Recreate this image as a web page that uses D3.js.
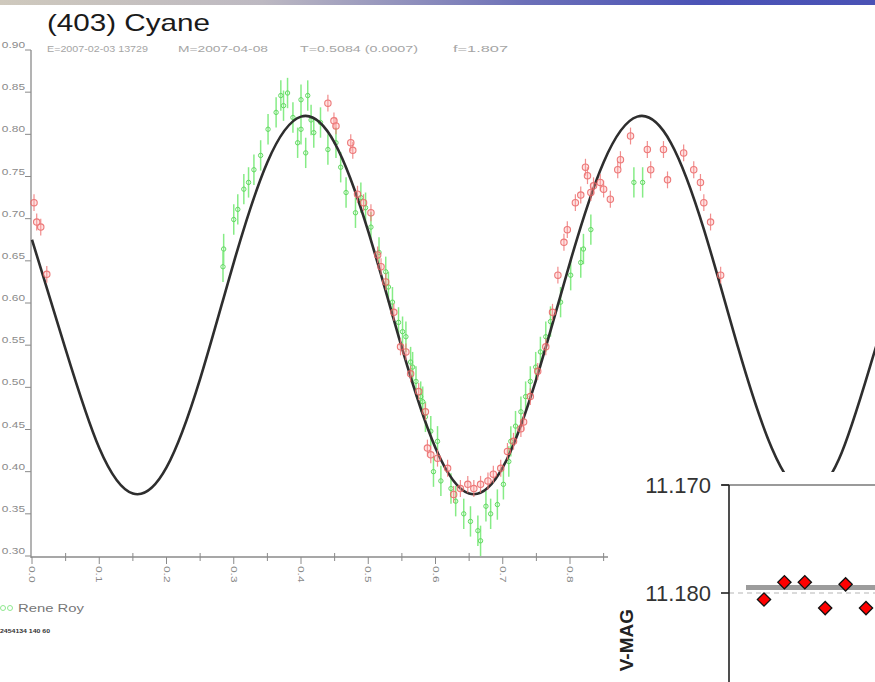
<!DOCTYPE html>
<html><head><meta charset="utf-8">
<script src="https://cdn.jsdelivr.net/npm/d3@7"></script>
<style>html,body{margin:0;padding:0;background:#fff;overflow:hidden}svg{display:block}text{font-family:"Liberation Sans",Arial,sans-serif}</style>
</head><body>
<script>
// ---------- DATA ----------
const title = "(403) Cyane";
const subtitleParts = ["E=2007-02-03 13729", "M=2007-04-08", "T=0.5084 (0.0007)", "f=1.807"];
const yTicks = [0.30,0.35,0.40,0.45,0.50,0.55,0.60,0.65,0.70,0.75,0.80,0.85,0.90];
const xTicks = [0.0,0.1,0.2,0.3,0.4,0.5,0.6,0.7,0.8];
const xMinorTicks = [0.05,0.15,0.25,0.35,0.45,0.55,0.65,0.75,0.85];
// fitted light curve
const curvePhase = [0.00,0.05,0.10,0.15,0.20,0.25,0.30,0.35,0.40,0.45,0.50,0.55,0.60,0.65,0.70,0.75,0.80,0.85,0.90,0.95,1.00,1.05,1.10,1.15,1.20,1.25,1.30];
const curveValue = [0.675,0.545,0.428,0.374,0.405,0.510,0.648,0.767,0.821,0.790,0.685,0.547,0.428,0.374,0.405,0.510,0.648,0.767,0.821,0.790,0.685,0.547,0.428,0.374,0.415,0.535,0.665];
// Rene Roy (green) observations
const greenPhase = [0.284,0.285,0.300,0.306,0.315,0.330,0.340,0.351,0.370,0.374,0.380,0.395,0.400,0.400,0.410,0.415,0.419,0.429,0.440,0.452,0.467,0.481,0.496,0.504,0.516,0.526,0.536,0.545,0.556,0.563,0.571,0.578,0.585,0.593,0.597,0.608,0.623,0.642,0.663,0.667,0.682,0.692,0.701,0.712,0.719,0.727,0.734,0.741,0.749,0.756,0.764,0.771,0.801,0.816,0.820,0.831,0.895,0.908,0.322,0.363,0.388,0.407,0.459,0.489,0.530,0.551,0.566,0.581,0.603,0.630,0.652,0.675,0.709,0.786];
const greenValue = [0.643,0.664,0.699,0.711,0.735,0.758,0.775,0.806,0.846,0.834,0.849,0.790,0.841,0.806,0.846,0.817,0.802,0.814,0.782,0.790,0.731,0.707,0.713,0.690,0.660,0.637,0.601,0.577,0.560,0.530,0.507,0.489,0.465,0.448,0.400,0.389,0.380,0.350,0.330,0.318,0.350,0.361,0.385,0.436,0.454,0.471,0.489,0.507,0.524,0.542,0.560,0.578,0.633,0.648,0.664,0.687,0.743,0.743,0.743,0.826,0.820,0.778,0.761,0.725,0.619,0.566,0.524,0.483,0.436,0.365,0.341,0.359,0.412,0.601];
const greenErr = 0.018;
// second observer (red) observations
const redPhase = [0.003,0.007,0.013,0.022,0.440,0.449,0.452,0.474,0.477,0.484,0.493,0.504,0.514,0.519,0.526,0.538,0.548,0.556,0.563,0.575,0.585,0.588,0.593,0.603,0.618,0.627,0.637,0.648,0.657,0.667,0.678,0.686,0.697,0.707,0.716,0.727,0.731,0.741,0.752,0.764,0.774,0.782,0.791,0.796,0.808,0.816,0.826,0.835,0.850,0.860,0.871,0.875,0.890,0.915,0.920,0.939,0.945,0.969,0.984,0.994,0.999,1.009,1.024,0.845,0.831,0.823];
const redValue = [0.719,0.696,0.690,0.634,0.837,0.816,0.810,0.790,0.781,0.729,0.719,0.707,0.657,0.643,0.625,0.589,0.548,0.542,0.516,0.495,0.471,0.428,0.420,0.416,0.404,0.373,0.380,0.385,0.380,0.385,0.389,0.397,0.404,0.424,0.436,0.451,0.459,0.489,0.519,0.548,0.589,0.633,0.672,0.687,0.719,0.728,0.751,0.739,0.735,0.723,0.758,0.770,0.798,0.782,0.758,0.782,0.746,0.778,0.758,0.743,0.719,0.696,0.633,0.743,0.731,0.761];
const redErr = 0.010;
const legendLabel = "Rene Roy";
// inset chart
const insetTicks = [11.170, 11.180];
const insetIndex = [0,1,2,3,4,5];
const insetMag = [11.1806,11.1790,11.1790,11.1814,11.1792,11.1814];
const insetMean = 11.1795;
const insetAxisTitle = "V-MAG";

// ---------- DRAW ----------
const W = 875, H = 682;
const svg = d3.select("body").append("svg").attr("width", W).attr("height", H);
const defs = svg.append("defs");
const grad = defs.append("linearGradient").attr("id","topbar").attr("x1","0%").attr("x2","100%");
[["0%","#cfc9bd"],["30%","#bdb9c2"],["60%","#6c70b8"],["80%","#4b53b6"],["100%","#4a52b5"]].forEach(s=>grad.append("stop").attr("offset",s[0]).attr("stop-color",s[1]));
svg.append("rect").attr("x",0).attr("y",0).attr("width",W).attr("height",5).attr("fill","url(#topbar)");

const x = d3.scaleLinear().domain([0,1]).range([32,704.5]);
const y = d3.scaleLinear().domain([0.30,0.90]).range([556,50]);
const SX = 1.4; // horizontal stretch of the original picture's text

// title
svg.append("text").attr("x",47).attr("y",31).attr("font-size",24).attr("fill","#1a1a1a")
  .attr("textLength",163).attr("lengthAdjust","spacingAndGlyphs").text(title);
const subX = [47,178,300,453], subLen = [101,90,118,55];
subtitleParts.forEach((t,i)=>svg.append("text").attr("x",subX[i]).attr("y",52).attr("font-size",8.5)
  .attr("fill","#a5a5a5").attr("textLength",subLen[i]).attr("lengthAdjust","spacingAndGlyphs").text(t));

// y axis
const gy = svg.append("g");
gy.append("line").attr("x1",31).attr("x2",31).attr("y1",y(0.90)).attr("y2",558).attr("stroke","#8a8a8a").attr("stroke-width",1.3);
yTicks.forEach(v=>{
  gy.append("line").attr("x1",25).attr("x2",31).attr("y1",y(v)).attr("y2",y(v)).attr("stroke","#8a8a8a").attr("stroke-width",1);
  gy.append("text").attr("transform",`translate(25,${y(v)-2}) scale(${SX},1)`).attr("text-anchor","end")
    .attr("font-size",8.5).attr("fill","#8a8a8a").text(d3.format(".2f")(v));
});
// x axis
const gx = svg.append("g");
gx.append("line").attr("x1",31).attr("x2",612).attr("y1",557).attr("y2",557).attr("stroke","#8a8a8a").attr("stroke-width",1.3);
xTicks.forEach(v=>{
  gx.append("line").attr("x1",x(v)).attr("x2",x(v)).attr("y1",557).attr("y2",564).attr("stroke","#8a8a8a");
  gx.append("text").attr("transform",`translate(${x(v)},566) rotate(90) scale(${SX},1)`).attr("dy","0.35em")
    .attr("font-size",8.5).attr("fill","#8a8a8a").text(d3.format(".1f")(v));
});
xMinorTicks.forEach(v=>gx.append("line").attr("x1",x(v)).attr("x2",x(v)).attr("y1",553).attr("y2",561).attr("stroke","#8a8a8a"));

// observations
const green = d3.range(greenPhase.length).map(i=>({p:greenPhase[i],v:greenValue[i]}));
const red = d3.range(redPhase.length).map(i=>({p:redPhase[i],v:redValue[i]}));
const gG = svg.append("g");
gG.selectAll("line").data(green).join("line").attr("x1",d=>x(d.p)).attr("x2",d=>x(d.p))
  .attr("y1",d=>y(d.v-greenErr)).attr("y2",d=>y(d.v+greenErr)).attr("stroke","#86ec86").attr("stroke-width",1.5);
gG.selectAll("circle").data(green).join("circle").attr("cx",d=>x(d.p)).attr("cy",d=>y(d.v)).attr("r",2.2)
  .attr("fill","none").attr("stroke","#62d862").attr("stroke-width",1);

// curve
const line = d3.line().x((d,i)=>x(curvePhase[i])).y(d=>y(d)).curve(d3.curveNatural);
svg.append("path").attr("d",line(curveValue)).attr("fill","none").attr("stroke","#2e2e2e").attr("stroke-width",2.6);

const gR = svg.append("g").attr("opacity",0.85);
gR.selectAll("line").data(red).join("line").attr("x1",d=>x(d.p)).attr("x2",d=>x(d.p))
  .attr("y1",d=>y(d.v-redErr)).attr("y2",d=>y(d.v+redErr)).attr("stroke","#f07a7a").attr("stroke-width",1.2);
gR.selectAll("circle").data(red).join("circle").attr("cx",d=>x(d.p)).attr("cy",d=>y(d.v)).attr("r",3.2)
  .attr("fill","rgba(255,160,160,0.35)").attr("stroke","#ea6262").attr("stroke-width",1.1);

// legend
svg.append("circle").attr("cx",3).attr("cy",608).attr("r",2.5).attr("fill","none").attr("stroke","#8fe88f");
svg.append("circle").attr("cx",10).attr("cy",608).attr("r",2.5).attr("fill","none").attr("stroke","#8fe88f");
svg.append("text").attr("x",18).attr("y",612).attr("font-size",11).attr("fill","#777")
  .attr("textLength",66).attr("lengthAdjust","spacingAndGlyphs").text(legendLabel);
svg.append("text").attr("x",0).attr("y",633).attr("font-size",5).attr("font-weight","bold").attr("fill","#333")
  .attr("textLength",50).attr("lengthAdjust","spacingAndGlyphs").text("2454134 140 60");

// ---------- INSET ----------
const ix = d3.scaleLinear().domain([0,5]).range([764,866]);
const iy = d3.scaleLinear().domain([11.170,11.180]).range([485,593]);
const gi = svg.append("g");
gi.append("rect").attr("x",608).attr("y",472).attr("width",W-608).attr("height",H-472).attr("fill","#fff");
gi.append("line").attr("x1",722).attr("x2",W).attr("y1",iy(11.170)).attr("y2",iy(11.170)).attr("stroke","#9a9a9a").attr("stroke-width",2);
gi.append("line").attr("x1",729).attr("x2",W).attr("y1",iy(11.180)).attr("y2",iy(11.180)).attr("stroke","#b5b5b5").attr("stroke-width",1).attr("stroke-dasharray","5,4");
gi.append("line").attr("x1",729).attr("x2",729).attr("y1",iy(11.170)).attr("y2",H).attr("stroke","#222").attr("stroke-width",1.6);
insetTicks.forEach(v=>{
  gi.append("line").attr("x1",721).attr("x2",729).attr("y1",iy(v)).attr("y2",iy(v)).attr("stroke","#222").attr("stroke-width",1.6);
  gi.append("text").attr("x",711).attr("y",iy(v)+8).attr("text-anchor","end").attr("font-size",22).attr("fill","#333")
    .text(d3.format(".3f")(v));
});
gi.append("line").attr("x1",746).attr("x2",W).attr("y1",iy(insetMean)).attr("y2",iy(insetMean)).attr("stroke","#9c9c9c").attr("stroke-width",5);
gi.selectAll("path.d").data(insetIndex).join("path").attr("class","d")
  .attr("d",d3.symbol(d3.symbolSquare,88)()).attr("transform",(d,i)=>`translate(${ix(d)},${iy(insetMag[i])}) rotate(45)`)
  .attr("fill","#ff0000").attr("stroke","#111").attr("stroke-width",1.3);
gi.append("text").attr("transform","translate(633,609) rotate(-90)").attr("text-anchor","end").attr("font-size",19)
  .attr("font-weight","bold").attr("fill","#222").text(insetAxisTitle);
</script>
</body></html>
